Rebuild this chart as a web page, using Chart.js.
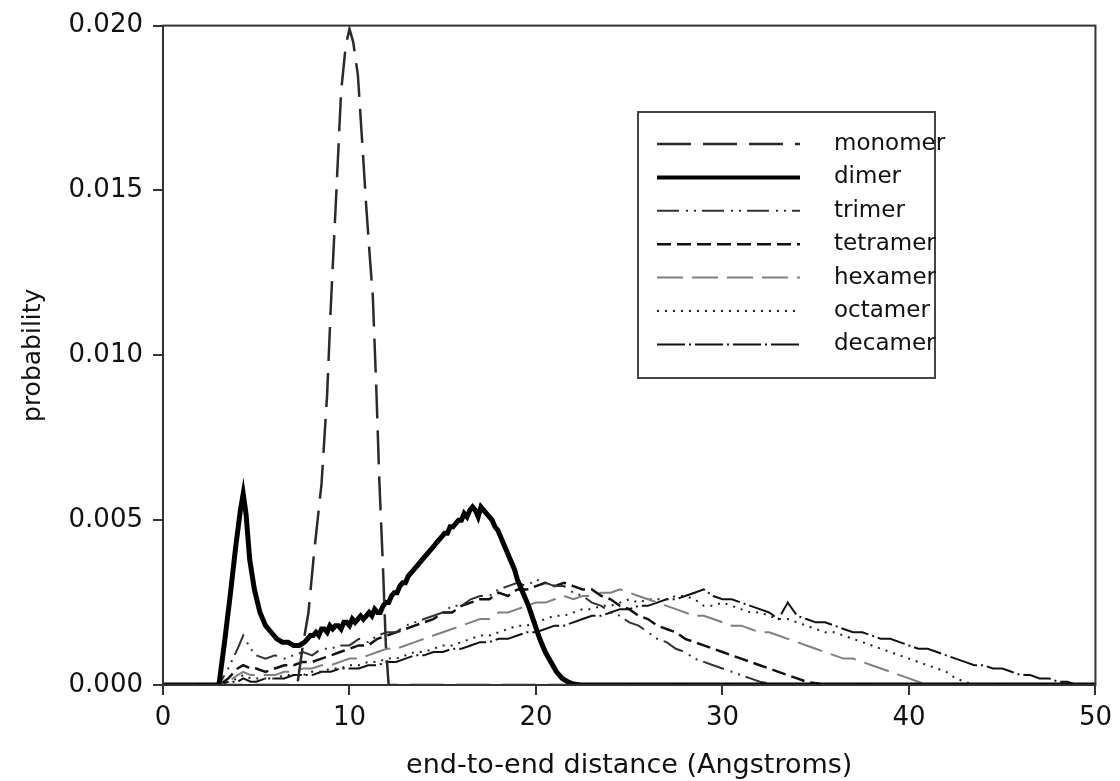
<!DOCTYPE html>
<html>
<head>
<meta charset="utf-8">
<script src="https://cdn.jsdelivr.net/npm/chart.js@4.4.1/dist/chart.umd.min.js"></script>
<style>
  body { margin: 0; background: #fff; }
  canvas { display: block; }
</style>
</head>
<body>
<canvas id="myChart" width="1120" height="781"></canvas>
<script>
// tick labels
const xTicks = [0, 10, 20, 30, 40, 50];
const yTicks = [0, 0.005, 0.010, 0.015, 0.020];
const yTickLabels = ['0.000', '0.005', '0.010', '0.015', '0.020'];

const seriesNames = ['monomer', 'dimer', 'trimer', 'tetramer', 'hexamer', 'octamer', 'decamer'];

// monomer - sharp peak at 10
const monoX = [0, 7.2, 7.5, 7.8, 8.1, 8.5, 8.8, 9.0, 9.3, 9.55, 9.8, 10.0, 10.2, 10.45, 10.7, 10.9, 11.1, 11.25, 11.45, 11.6, 11.8, 11.95, 12.1, 50];
const monoY = [0, 0, 0.0012, 0.0022, 0.0040, 0.0061, 0.0088, 0.0115, 0.0150, 0.0180, 0.0194, 0.0199, 0.0195, 0.0185, 0.0163, 0.0145, 0.0129, 0.0118, 0.0088, 0.0062, 0.0035, 0.0012, 0, 0];

// dimer - thick, noisy solid line
const dimerX = [0, 3.0, 3.3, 3.6, 3.9, 4.15, 4.3, 4.45, 4.65, 4.9,
  5.2, 5.5, 5.8, 6.1, 6.4, 6.7, 7.0, 7.3, 7.6, 7.9,
  8.05, 8.2, 8.35, 8.5, 8.65, 8.8, 8.95, 9.1, 9.25, 9.4,
  9.55, 9.7, 9.85, 10.0, 10.15, 10.3, 10.45, 10.6, 10.75, 10.9,
  11.05, 11.2, 11.35, 11.5, 11.65, 11.8, 11.95, 12.1, 12.25, 12.4,
  12.55, 12.7, 12.85, 13.0, 13.15, 13.3, 13.45, 13.6, 13.75, 13.9,
  14.05, 14.2, 14.35, 14.5, 14.65, 14.8, 14.95, 15.1, 15.25, 15.4,
  15.55, 15.7, 15.85, 16.0, 16.15, 16.3, 16.45, 16.6, 16.75, 16.9,
  17.05, 17.2, 17.35, 17.5, 17.65, 17.8, 17.95, 18.1, 18.25, 18.4,
  18.55, 18.7, 18.85, 19.0, 19.3, 19.6, 19.9, 20.2, 20.5, 20.8,
  21.1, 21.4, 21.7, 22.0, 22.4, 50];
const dimerY = [0, 0, 0.0013, 0.0027, 0.0042, 0.0053, 0.0058, 0.0052, 0.0038, 0.0029,
  0.0022, 0.0018, 0.0016, 0.0014, 0.0013, 0.0013, 0.0012, 0.0012, 0.0013, 0.0015,
  0.0015, 0.0016, 0.0015, 0.0017, 0.0017, 0.0016, 0.0018, 0.0017, 0.0018, 0.0018,
  0.0017, 0.0019, 0.0019, 0.0018, 0.0020, 0.0019, 0.0020, 0.0021, 0.0020, 0.0021,
  0.0022, 0.0021, 0.0023, 0.0022, 0.0022, 0.0024, 0.0025, 0.0025, 0.0027, 0.0028,
  0.0028, 0.0030, 0.0031, 0.0031, 0.0033, 0.0034, 0.0035, 0.0036, 0.0037, 0.0038,
  0.0039, 0.0040, 0.0041, 0.0042, 0.0043, 0.0044, 0.0045, 0.0046, 0.0046, 0.0048,
  0.0048, 0.0049, 0.0050, 0.0050, 0.0052, 0.0051, 0.0053, 0.0054, 0.0053, 0.0051,
  0.0054, 0.0053, 0.0052, 0.0051, 0.0050, 0.0048, 0.0047, 0.0045, 0.0043, 0.0041,
  0.0039, 0.0037, 0.0035, 0.0032, 0.0028, 0.0024, 0.0019, 0.0014, 0.0010, 0.0007,
  0.0004, 0.0002, 0.0001, 0.00003, 0, 0];

// shared x grid for the broad distributions
const lowX = [0, 3, 3.5, 4, 4.3, 4.7,
  5, 5.5, 6, 6.5, 7, 7.5, 8, 8.5, 9, 9.5,
  10, 10.5, 11, 11.5, 12, 12.5, 13, 13.5, 14, 14.5,
  15, 15.5, 16, 16.5, 17, 17.5, 18, 18.5, 19, 19.5,
  20, 20.5, 21, 21.5, 22, 22.5, 23, 23.5, 24, 24.5,
  25, 25.5, 26, 26.5, 27, 27.5, 28, 28.5, 29, 29.5,
  30, 30.5, 31, 31.5, 32, 32.5, 33, 33.5, 34, 34.5,
  35, 35.5, 36, 36.5, 37, 37.5, 38, 38.5, 39, 39.5,
  40, 40.5, 41, 41.5, 42, 42.5, 43, 43.5, 44, 44.5,
  45, 45.5, 46, 46.5, 47, 47.5, 48, 48.5, 49];

const trimerY = [0, 0, 0.0005, 0.0011, 0.0015, 0.0011,
  0.0009, 0.0008, 0.0009, 0.0008, 0.0009, 0.0010, 0.0009, 0.0011, 0.0011, 0.0012,
  0.0012, 0.0014, 0.0013, 0.0015, 0.0016, 0.0016, 0.0018, 0.0019, 0.0020, 0.0021,
  0.0022, 0.0024, 0.0024, 0.0026, 0.0027, 0.0027, 0.0029, 0.0030, 0.0031, 0.0030,
  0.0032, 0.0031, 0.0030, 0.0030, 0.0028, 0.0027, 0.0025, 0.0024, 0.0022, 0.0021,
  0.0019, 0.0018, 0.0016, 0.0014, 0.0013, 0.0011, 0.0010, 0.0008, 0.0007, 0.0006,
  0.0005, 0.0004, 0.0003, 0.0002, 0.0001, 0.00005, 0];

const tetramerY = [0, 0, 0.0002, 0.0005, 0.0006, 0.0005,
  0.0005, 0.0004, 0.0005, 0.0006, 0.0006, 0.0007, 0.0007, 0.0008, 0.0009, 0.0010,
  0.0011, 0.0012, 0.0012, 0.0014, 0.0015, 0.0016, 0.0017, 0.0018, 0.0019, 0.0020,
  0.0022, 0.0022, 0.0024, 0.0025, 0.0026, 0.0026, 0.0028, 0.0027, 0.0029, 0.0029,
  0.0030, 0.0031, 0.0030, 0.0031, 0.0030, 0.0029, 0.0029, 0.0027, 0.0026, 0.0024,
  0.0023, 0.0021, 0.0020, 0.0018, 0.0017, 0.0016, 0.0014, 0.0013, 0.0012, 0.0011,
  0.0010, 0.0009, 0.0008, 0.0007, 0.0006, 0.0005, 0.0004, 0.0003, 0.0002, 0.0001,
  0.00005, 0];

const hexamerY = [0, 0, 0.0001, 0.0003, 0.0004, 0.0003,
  0.0003, 0.0003, 0.0003, 0.0004, 0.0004, 0.0005, 0.0005, 0.0006, 0.0006, 0.0007,
  0.0008, 0.0008, 0.0009, 0.0010, 0.0011, 0.0011, 0.0012, 0.0013, 0.0014, 0.0015,
  0.0016, 0.0017, 0.0018, 0.0019, 0.0020, 0.0020, 0.0022, 0.0022, 0.0023, 0.0024,
  0.0025, 0.0025, 0.0026, 0.0027, 0.0026, 0.0027, 0.0027, 0.0028, 0.0028, 0.0029,
  0.0028, 0.0027, 0.0026, 0.0025, 0.0024, 0.0023, 0.0022, 0.0021, 0.0021, 0.0020,
  0.0019, 0.0018, 0.0018, 0.0017, 0.0016, 0.0016, 0.0015, 0.0014, 0.0013, 0.0012,
  0.0011, 0.0010, 0.0009, 0.0008, 0.0008, 0.0007, 0.0006, 0.0005, 0.0004, 0.0003,
  0.0002, 0.0001, 0];

const octamerY = [0, 0, 0.0001, 0.0002, 0.0003, 0.0002,
  0.0002, 0.0002, 0.0002, 0.0003, 0.0003, 0.0003, 0.0004, 0.0004, 0.0005, 0.0005,
  0.0006, 0.0006, 0.0007, 0.0007, 0.0008, 0.0008, 0.0009, 0.0010, 0.0010, 0.0011,
  0.0012, 0.0012, 0.0013, 0.0014, 0.0015, 0.0015, 0.0016, 0.0017, 0.0018, 0.0018,
  0.0019, 0.0020, 0.0021, 0.0021, 0.0022, 0.0023, 0.0023, 0.0024, 0.0024, 0.0025,
  0.0026, 0.0025, 0.0026, 0.0026, 0.0026, 0.0027, 0.0027, 0.0026, 0.0024, 0.0024,
  0.0025, 0.0024, 0.0023, 0.0022, 0.0022, 0.0021, 0.0020, 0.0020, 0.0019, 0.0018,
  0.0017, 0.0016, 0.0016, 0.0015, 0.0014, 0.0013, 0.0012, 0.0011, 0.0010, 0.0009,
  0.0008, 0.0007, 0.0006, 0.0005, 0.0004, 0.0002, 0.0001, 0];

const decamerY = [0, 0, 0.0001, 0.0001, 0.0002, 0.0001,
  0.0001, 0.0002, 0.0002, 0.0002, 0.0003, 0.0003, 0.0003, 0.0004, 0.0004, 0.0005,
  0.0005, 0.0005, 0.0006, 0.0006, 0.0007, 0.0007, 0.0008, 0.0009, 0.0009, 0.0010,
  0.0010, 0.0011, 0.0011, 0.0012, 0.0013, 0.0013, 0.0014, 0.0014, 0.0015, 0.0016,
  0.0016, 0.0017, 0.0018, 0.0018, 0.0019, 0.0020, 0.0021, 0.0021, 0.0022, 0.0023,
  0.0023, 0.0024, 0.0024, 0.0025, 0.0026, 0.0026, 0.0027, 0.0028, 0.0029, 0.0027,
  0.0026, 0.0026, 0.0025, 0.0024, 0.0023, 0.0022, 0.0020, 0.0025, 0.0021, 0.0020,
  0.0019, 0.0019, 0.0018, 0.0017, 0.0016, 0.0016, 0.0015, 0.0014, 0.0014, 0.0013,
  0.0012, 0.0011, 0.0011, 0.0010, 0.0009, 0.0008, 0.0007, 0.0006, 0.0006, 0.0005,
  0.0005, 0.0004, 0.0003, 0.0003, 0.0002, 0.0002, 0.0001, 0.0001, 0];

// pair up x and y, close the line along the baseline to x=50
function toPoints(xs, ys) {
  let pts = ys.map((y, i) => ({ x: xs[i], y: y }));
  if (pts[pts.length - 1].x !== 50) pts.push({ x: 50, y: 0 });
  return pts;
}

const styles = [
  { color: '#2a2a2a', width: 2.5, dash: [34, 12] },
  { color: '#000', width: 5, dash: [] },
  { color: '#333', width: 2, dash: [22, 7, 2, 6, 2, 6] },
  { color: '#111', width: 2.5, dash: [14, 6] },
  { color: '#808080', width: 2, dash: [26, 9] },
  { color: '#222', width: 2, dash: [2, 6] },
  { color: '#111', width: 2, dash: [28, 4, 2, 4] }
];

const allData = [
  toPoints(monoX, monoY),
  toPoints(dimerX, dimerY),
  toPoints(lowX, trimerY),
  toPoints(lowX, tetramerY),
  toPoints(lowX, hexamerY),
  toPoints(lowX, octamerY),
  toPoints(lowX, decamerY)
];

const datasets = seriesNames.map((name, i) => ({
  label: name,
  data: allData[i],
  borderColor: styles[i].color,
  borderWidth: styles[i].width,
  borderDash: styles[i].dash,
  pointRadius: 0,
  tension: 0,
  fill: false
}));

// box round the plot + the legend in the upper right
const framePlugin = {
  id: 'frame',
  afterDraw(chart) {
    const ctx = chart.ctx;
    const a = chart.chartArea;
    ctx.save();
    ctx.strokeStyle = '#333';
    ctx.lineWidth = 2;
    ctx.setLineDash([]);
    ctx.strokeRect(a.left, a.top, a.right - a.left, a.bottom - a.top);

    // legend
    ctx.strokeStyle = '#444';
    ctx.strokeRect(638, 112, 297, 266);
    ctx.font = '23px "DejaVu Sans"';
    ctx.fillStyle = '#111';
    ctx.textBaseline = 'middle';
    seriesNames.forEach((name, i) => {
      const y = 144 + i * 33.4;
      ctx.beginPath();
      ctx.strokeStyle = styles[i].color;
      ctx.lineWidth = i === 1 ? 4 : styles[i].width;
      ctx.setLineDash(styles[i].dash);
      ctx.moveTo(657, y);
      ctx.lineTo(800, y);
      ctx.stroke();
      ctx.fillText(name, 834, y);
    });
    ctx.restore();
  }
};

const config = {
  type: 'line',
  data: { datasets: datasets },
  options: {
    responsive: false,
    animation: false,
    layout: { padding: { left: 0, right: 17, top: 22, bottom: 0 } },
    plugins: { legend: { display: false }, tooltip: { enabled: false } },
    scales: {
      x: {
        type: 'linear',
        min: 0,
        max: 50,
        afterBuildTicks: (s) => { s.ticks = xTicks.map(v => ({ value: v })); },
        afterFit: (s) => { s.height = 96; },
        border: { display: false },
        grid: { display: true, drawOnChartArea: false, drawTicks: true, tickLength: 10, color: '#333', lineWidth: 2 },
        ticks: { color: '#111', padding: 8, maxRotation: 0, font: { family: 'DejaVu Sans', size: 26 } },
        title: { display: true, text: 'end-to-end distance (Angstroms)', color: '#111', padding: { top: 0, bottom: 0 }, font: { family: 'DejaVu Sans', size: 27, lineHeight: 1.1 } }
      },
      y: {
        type: 'linear',
        min: 0,
        max: 0.02,
        afterBuildTicks: (s) => { s.ticks = yTicks.map(v => ({ value: v })); },
        afterFit: (s) => { s.width = 163; },
        border: { display: false },
        grid: { display: true, drawOnChartArea: false, drawTicks: true, tickLength: 10, color: '#333', lineWidth: 2 },
        ticks: {
          color: '#111', padding: 10, font: { family: 'DejaVu Sans', size: 26 },
          callback: (v, i) => yTickLabels[i]
        },
        title: { display: true, text: 'probability', color: '#111', padding: { top: 18, bottom: 0 }, font: { family: 'DejaVu Sans', size: 25, lineHeight: 1.2 } }
      }
    }
  },
  plugins: [framePlugin]
};

const myChart = new Chart(document.getElementById('myChart'), config);
</script>
</body>
</html>
